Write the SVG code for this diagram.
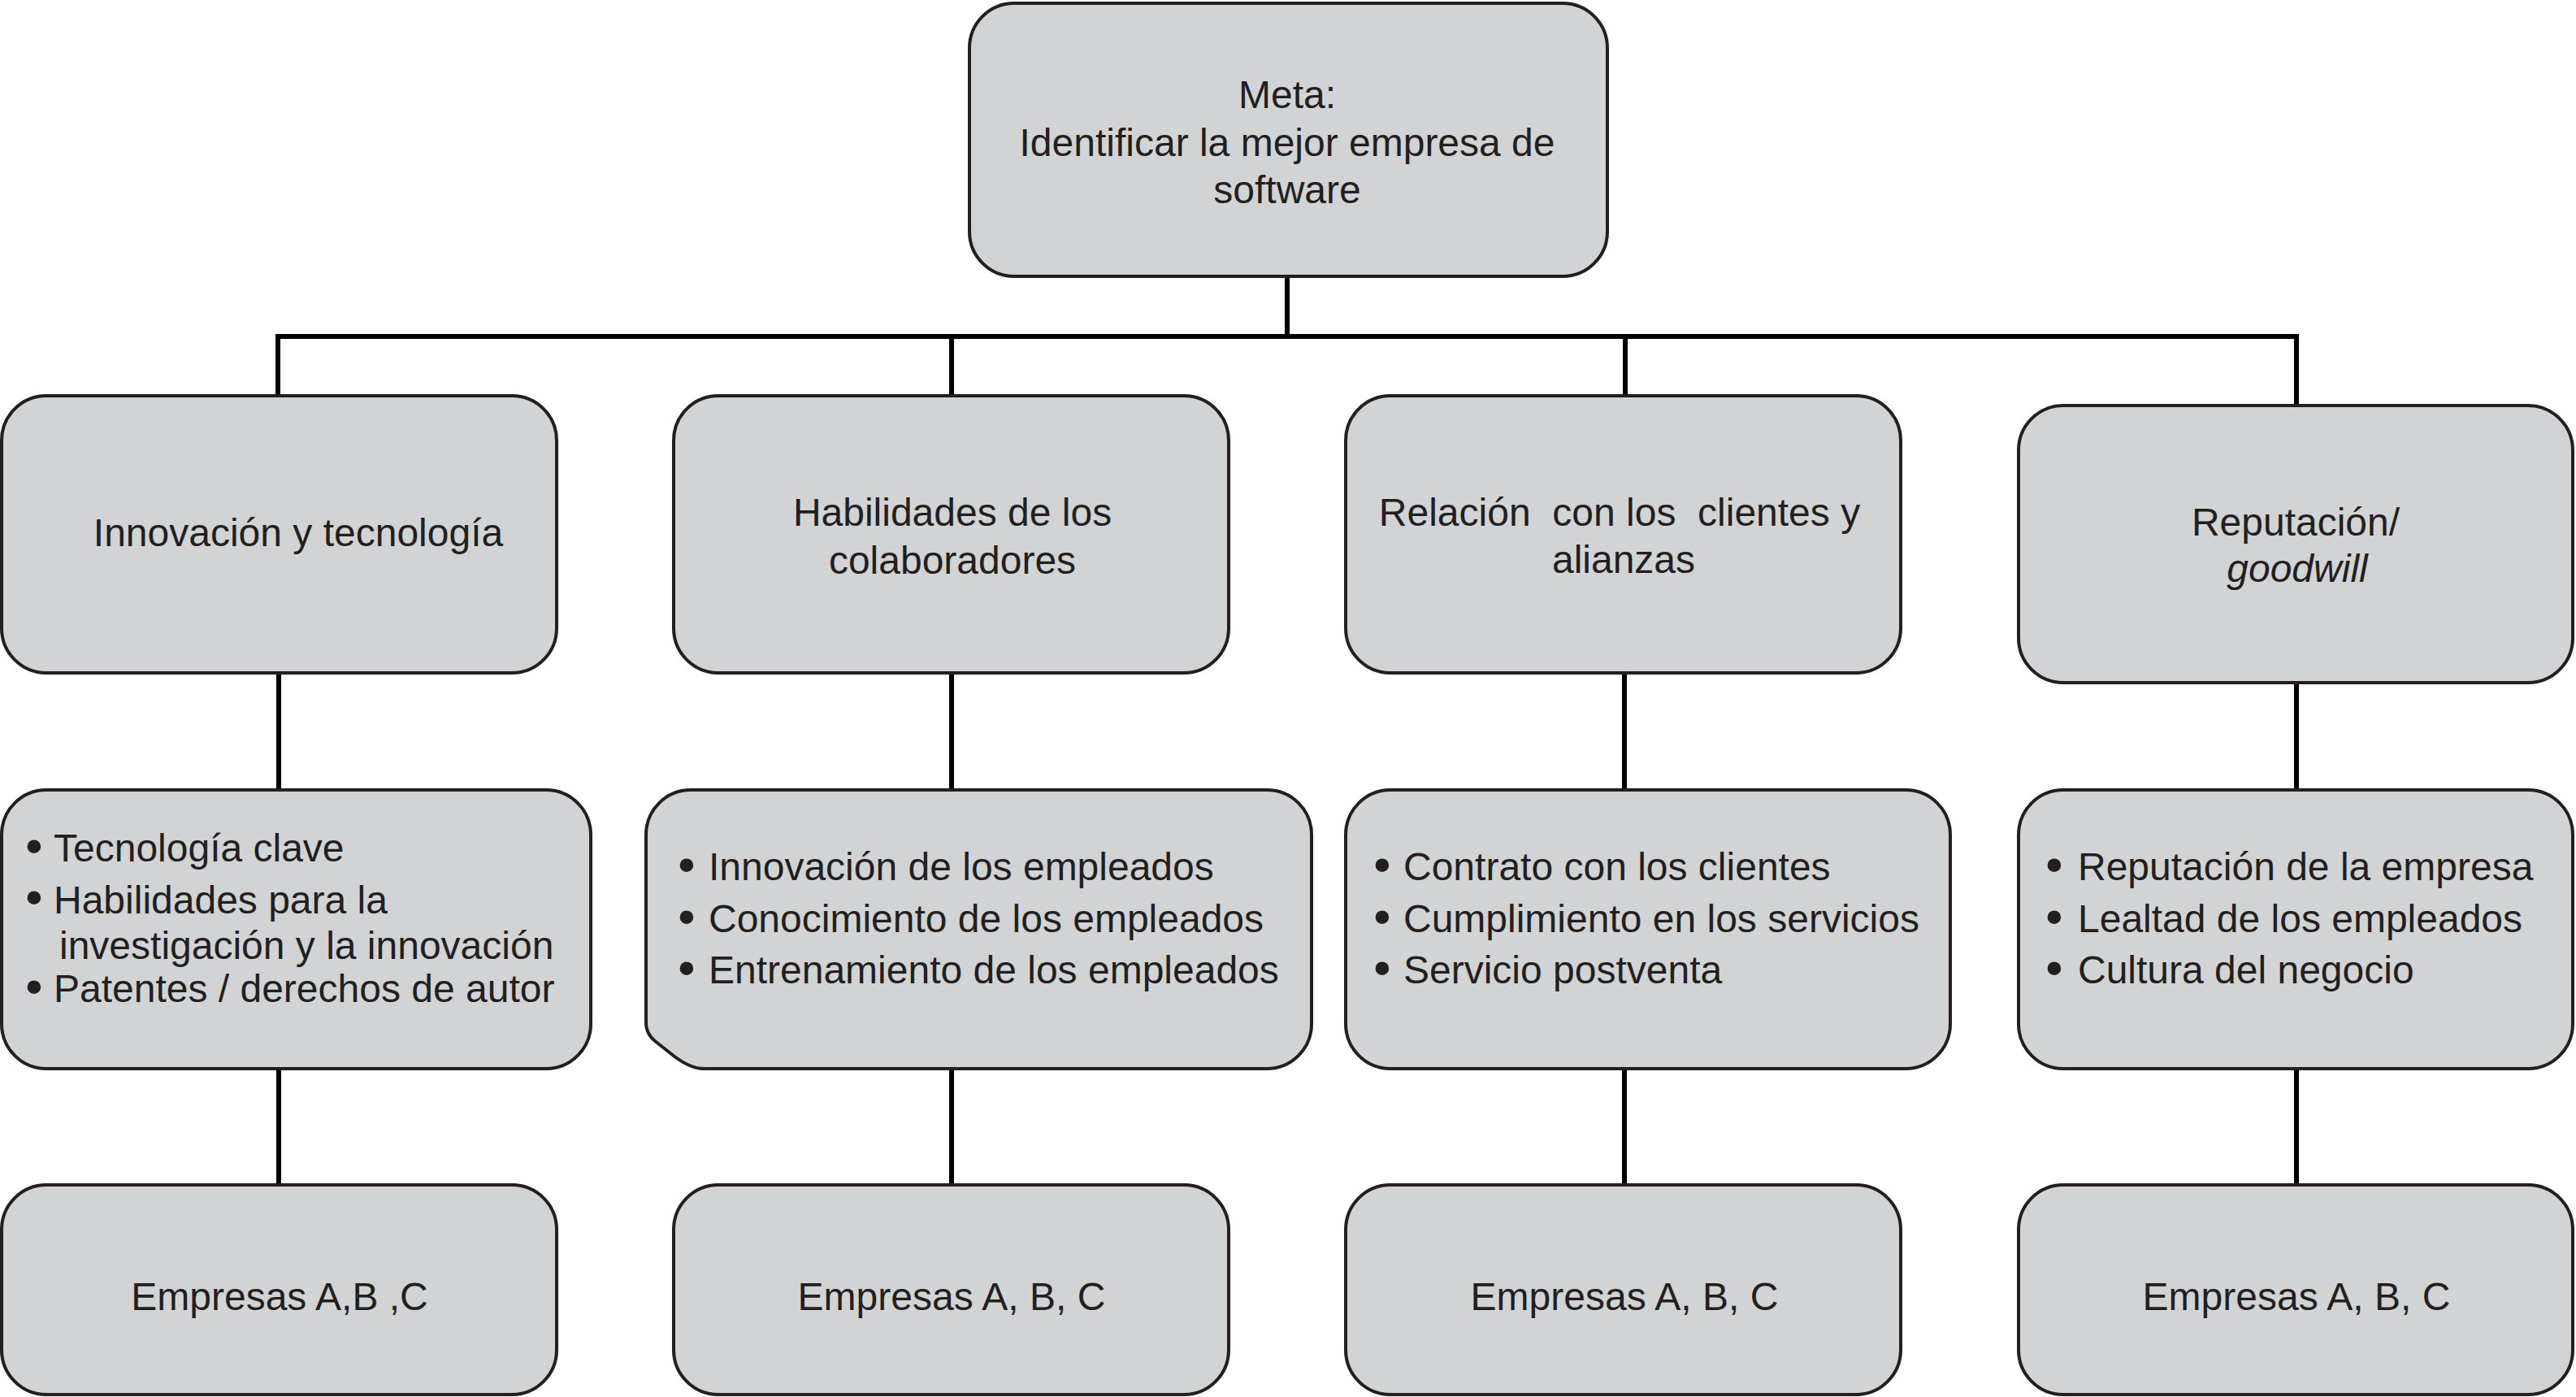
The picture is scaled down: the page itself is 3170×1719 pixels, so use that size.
<svg xmlns="http://www.w3.org/2000/svg" width="3170" height="1719" viewBox="0 0 3170 1719">
<style>
.box{fill:#D1D3D4;stroke:#231F20;stroke-width:4}
.t{font-family:"Liberation Sans",Arial,sans-serif;font-size:48px;fill:#231F20}
.c{text-anchor:middle}
.bu{font-size:58px;font-weight:bold;text-anchor:middle}
.tx{text-anchor:start}
.ln{stroke:#000;stroke-width:6;fill:none}
</style>
<rect x="0" y="0" width="3170" height="1719" fill="#fff"/>
<g id="connectors">
<path class="ln" d="M1584 340V414M339 414H2829M342 414V487M1171 414V487M2000 414V487M2826 414V499"/>
<path class="ln" d="M343 827V972M1171 827V972M1999 827V972M2826 839V972"/>
<path class="ln" d="M343 1314V1458M1171 1314V1458M1999 1314V1458M2826 1314V1458"/>
</g>
<g id="goal">
<rect class="box" x="1193" y="4" width="785" height="336" rx="55"/>
<text class="t c" x="1584" y="133">Meta:</text>
<text class="t c" x="1584" y="192">Identificar la mejor empresa de</text>
<text class="t c" x="1584" y="250">software</text>
</g>
<g id="c1">
<rect class="box" x="2" y="487" width="683" height="341" rx="55"/>
<text class="t c" x="367" y="672">Innovación y tecnología</text>
</g>
<g id="c2">
<rect class="box" x="829" y="487" width="683" height="341" rx="55"/>
<text class="t c" x="1172" y="647">Habilidades de los</text>
<text class="t c" x="1172" y="706">colaboradores</text>
</g>
<g id="c3">
<rect class="box" x="1656" y="487" width="683" height="341" rx="55"/>
<text class="t c" x="1993" y="647" style="white-space:pre" xml:space="preserve">Relación  con los  clientes y</text>
<text class="t c" x="1998" y="705">alianzas</text>
</g>
<g id="c4">
<rect class="box" x="2484" y="499" width="682" height="341" rx="55"/>
<text class="t c" x="2825" y="659">Reputación/</text>
<text class="t c" x="2827" y="716" font-style="italic">goodwill</text>
</g>
<g id="s1">
<rect class="box" x="2" y="972" width="725" height="343" rx="55"/>
<text class="t" y="1060"><tspan class="bu" x="42" dy="1">•</tspan><tspan class="tx" x="66" dy="-1">Tecnología clave</tspan></text>
<text class="t" y="1124"><tspan class="bu" x="42">•</tspan><tspan class="tx" x="66">Habilidades para la</tspan></text>
<text class="t" x="73" y="1180">investigación y la innovación</text>
<text class="t" y="1233"><tspan class="bu" x="42" dy="1">•</tspan><tspan class="tx" x="66" dy="-1">Patentes / derechos de autor</tspan></text>
</g>
<g id="s2">
<path class="box" d="M850 972H1559A55 55 0 0 1 1614 1027V1260A55 55 0 0 1 1559 1315H866Q850 1315 830 1300L806 1281Q795 1272 795 1258V1027A55 55 0 0 1 850 972Z"/>
<text class="t" y="1083"><tspan class="bu" x="845" dy="1">•</tspan><tspan class="tx" x="872" dy="-1">Innovación de los empleados</tspan></text>
<text class="t" y="1147"><tspan class="bu" x="845" dy="1">•</tspan><tspan class="tx" x="872" dy="-1">Conocimiento de los empleados</tspan></text>
<text class="t" y="1210"><tspan class="bu" x="845" dy="1">•</tspan><tspan class="tx" x="872" dy="-1">Entrenamiento de los empleados</tspan></text>
</g>
<g id="s3">
<rect class="box" x="1656" y="972" width="744" height="343" rx="55"/>
<text class="t" y="1083"><tspan class="bu" x="1701" dy="1">•</tspan><tspan class="tx" x="1727" dy="-1">Contrato con los clientes</tspan></text>
<text class="t" y="1147"><tspan class="bu" x="1701" dy="1">•</tspan><tspan class="tx" x="1727" dy="-1">Cumplimiento en los servicios</tspan></text>
<text class="t" y="1210"><tspan class="bu" x="1701" dy="1">•</tspan><tspan class="tx" x="1727" dy="-1">Servicio postventa</tspan></text>
</g>
<g id="s4">
<rect class="box" x="2484" y="972" width="682" height="343" rx="55"/>
<text class="t" y="1083"><tspan class="bu" x="2528" dy="1">•</tspan><tspan class="tx" x="2557" dy="-1">Reputación de la empresa</tspan></text>
<text class="t" y="1147"><tspan class="bu" x="2528" dy="1">•</tspan><tspan class="tx" x="2557" dy="-1">Lealtad de los empleados</tspan></text>
<text class="t" y="1210"><tspan class="bu" x="2528" dy="1">•</tspan><tspan class="tx" x="2557" dy="-1">Cultura del negocio</tspan></text>
</g>
<g id="e1">
<rect class="box" x="2" y="1458" width="683" height="258" rx="55"/>
<text class="t c" x="344" y="1612">Empresas A,B ,C</text>
</g>
<g id="e2">
<rect class="box" x="829" y="1458" width="683" height="258" rx="55"/>
<text class="t c" x="1171" y="1612">Empresas A, B, C</text>
</g>
<g id="e3">
<rect class="box" x="1656" y="1458" width="683" height="258" rx="55"/>
<text class="t c" x="1999" y="1612">Empresas A, B, C</text>
</g>
<g id="e4">
<rect class="box" x="2484" y="1458" width="682" height="258" rx="55"/>
<text class="t c" x="2826" y="1612">Empresas A, B, C</text>
</g>
</svg>
